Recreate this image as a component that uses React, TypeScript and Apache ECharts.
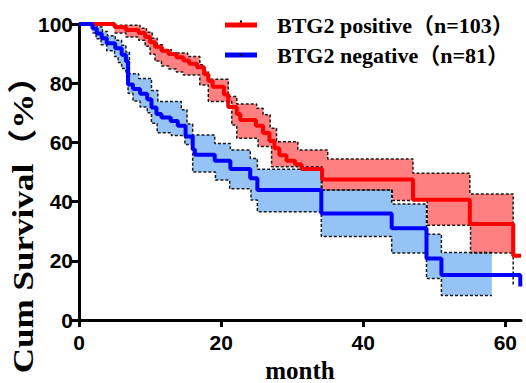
import React, { useEffect, useRef } from "react";
import * as echarts from "echarts";

// ---- data (month, survival %) ----
const xTickValues = [0, 20, 40, 60];
const yTickValues = [0, 20, 40, 60, 80, 100];

const seriesNames = ["BTG2 positive（n=103）", "BTG2 negative（n=81）"];

const redSurvival: [number, number][] = [
  [0, 100], [5.0, 99.0], [6.6, 98.0], [8.4, 97.0], [9.3, 95.6], [10.0, 93.8],
  [10.7, 92.3], [11.6, 91.0], [12.6, 89.9], [13.7, 88.8], [14.7, 87.7], [15.5, 86.6],
  [16.6, 85.4], [17.6, 83.0], [18.2, 80.8], [18.8, 78.8], [20.4, 76.2], [21.0, 72.0],
  [22.2, 69.6], [22.7, 67.6], [24.9, 65.6], [25.9, 63.2], [26.8, 60.5], [27.5, 58.0],
  [28.2, 55.7], [29.2, 53.8], [30.4, 52.6], [31.3, 51.0], [34.2, 47.5], [47.0, 40.6],
  [55.0, 32.4], [61.1, 21.7], [62.2, 21.7],
];

const redUpper: [number, number][] = [
  [5.0, 99.6], [8.6, 98.6], [9.5, 97.2], [10.3, 95.2], [11.0, 93.0], [11.8, 91.3],
  [13.0, 90.2], [15.3, 89.0], [17.0, 86.2], [17.6, 84.0], [18.2, 81.3], [21.0, 75.5],
  [22.2, 73.0], [25.0, 71.5], [25.9, 69.3], [26.9, 64.8], [27.8, 60.2], [30.8, 57.4],
  [35.0, 54.4], [47.0, 49.6], [55.0, 42.6], [61.1, 11.9],
];

const redLower: [number, number][] = [
  [5.0, 97.0], [6.6, 95.6], [8.4, 94.5], [9.3, 92.5], [10.0, 89.8], [10.7, 87.5],
  [11.6, 85.8], [12.6, 84.8], [13.7, 83.8], [14.7, 82.8], [17.0, 79.4], [18.2, 73.8],
  [21.5, 65.9], [22.2, 61.4], [25.2, 58.6], [27.1, 51.8], [34.2, 43.9], [44.1, 40.4],
  [49.0, 32.0], [55.1, 22.6], [61.1, 22.6],
];

const blueSurvival: [number, number][] = [
  [0, 100], [1.9, 98.5], [2.5, 96.8], [3.2, 95.2], [3.9, 93.5], [5.1, 91.8],
  [6.0, 89.6], [6.6, 87.4], [6.9, 79.6], [7.6, 78.0], [8.6, 76.4], [9.6, 74.6],
  [10.2, 71.8], [10.9, 69.6], [11.6, 68.4], [12.9, 67.2], [13.9, 65.6], [15.0, 62.0],
  [16.0, 57.6], [16.3, 55.8], [19.1, 53.8], [21.3, 51.0], [24.1, 47.9], [25.1, 43.9],
  [34.1, 36.0], [44.0, 31.0], [48.9, 20.8], [51.0, 15.2], [62.1, 11.3],
];

const blueUpper: [number, number][] = [
  [1.9, 100], [2.6, 99.0], [3.3, 97.5], [4.0, 96.0], [5.1, 94.5], [6.0, 92.8],
  [6.6, 90.5], [7.1, 83.2], [8.4, 81.6], [10.2, 77.5], [11.1, 73.8], [14.4, 71.0],
  [15.2, 66.2], [16.0, 62.5], [19.1, 59.6], [21.3, 57.4], [24.1, 54.6], [25.1, 50.9],
  [34.1, 43.9], [44.0, 39.2], [48.9, 29.0], [51.0, 22.8], [58.1, 22.8],
];

const blueLower: [number, number][] = [
  [1.9, 97.0], [2.4, 95.0], [3.1, 93.0], [3.9, 91.0], [5.0, 89.0], [5.5, 87.0],
  [6.0, 85.0], [6.6, 83.0], [6.9, 76.6], [7.6, 74.0], [8.6, 72.0], [9.6, 70.0],
  [10.2, 66.5], [11.0, 63.3], [13.0, 62.3], [14.9, 59.3], [16.0, 50.0], [19.2, 47.3],
  [21.2, 44.3], [24.2, 40.5], [25.1, 36.6], [34.1, 28.2], [44.0, 22.6], [48.9, 14.0],
  [51.0, 8.3], [58.1, 8.3],
];

const RED = "#ff0000";
const BLUE = "#0000ff";
const RED_FILL = "#ff8080";
const BLUE_FILL = "#95c3f5";
const SERIF = "'Liberation Serif', 'Times New Roman', 'Noto Sans CJK SC', serif";
const SANS = "'Liberation Sans', Arial, sans-serif";

function bandRenderer(upper: [number, number][], lower: [number, number][], fill: string) {
  return (_params: any, api: any) => {
    const pts: number[][] = [];
    for (let i = 0; i < upper.length - 1; i++) {
      pts.push(api.coord([upper[i][0], upper[i][1]]));
      pts.push(api.coord([upper[i + 1][0], upper[i][1]]));
    }
    for (let j = lower.length - 2; j >= 0; j--) {
      pts.push(api.coord([lower[j + 1][0], lower[j][1]]));
      pts.push(api.coord([lower[j][0], lower[j][1]]));
    }
    return { type: "polygon", shape: { points: pts }, style: { fill, stroke: "none" } };
  };
}

function ciLine(data: [number, number][]) {
  return {
    type: "line",
    data,
    step: "end",
    showSymbol: false,
    symbol: "none",
    silent: true,
    z: 3,
    lineStyle: { color: "#1a1a1a", width: 1.5, type: [3, 2] },
  };
}

export default function App() {
  const ref = useRef<HTMLDivElement>(null);
  useEffect(() => {
    const chart = echarts.init(ref.current!, null, { renderer: "svg" });
    const option: any = {
      animation: false,
      backgroundColor: "#ffffff",
      grid: { left: 79, right: 5, top: 24, bottom: 63, containLabel: false, outerBoundsMode: "none" },
      legend: {
        data: seriesNames,
        orient: "vertical",
        left: 220,
        top: 9,
        itemWidth: 32,
        itemHeight: 5,
        itemGap: 8,
        icon: "rect",
        textStyle: {
          fontFamily: SERIF,
          fontWeight: "bold",
          fontSize: 22,
          color: "#000",
          padding: [0, 0, 0, 15],
        },
      },
      xAxis: {
        type: "value",
        min: 0,
        max: 62.2,
        interval: 20,
        name: "month",
        nameLocation: "middle",
        nameGap: 36,
        nameTextStyle: { fontFamily: SERIF, fontWeight: "bold", fontSize: 25, color: "#000" },
        axisLine: { show: true, onZero: false, lineStyle: { color: "#000", width: 3 } },
        axisTick: { show: true, length: 7, lineStyle: { color: "#000", width: 3 }, customValues: xTickValues },
        axisLabel: {
          color: "#000", fontFamily: SANS, fontWeight: "bold", fontSize: 21, margin: 12,
          customValues: xTickValues,
        },
        splitLine: { show: false },
      },
      yAxis: {
        type: "value",
        min: 0,
        max: 100,
        interval: 20,
        axisLine: { show: true, lineStyle: { color: "#000", width: 3 } },
        axisTick: { show: true, length: 7, lineStyle: { color: "#000", width: 3 }, customValues: yTickValues },
        axisLabel: {
          color: "#000", fontFamily: SANS, fontWeight: "bold", fontSize: 21, margin: 6,
          customValues: yTickValues,
        },
        splitLine: { show: false },
      },
      graphic: [
        {
          type: "text",
          x: 23,
          y: 216,
          rotation: Math.PI / 2,
          scaleX: 1.21,
          style: {
            text: "Cum Survival（%）",
            fontFamily: SERIF,
            fontWeight: "bold",
            fontSize: 29,
            fill: "#000",
            align: "center",
            verticalAlign: "middle",
          },
        },
        { type: "circle", shape: { cx: 241, cy: 21.5, r: 1.2 }, style: { fill: "#000" }, z: 100 },
        { type: "circle", shape: { cx: 241, cy: 55, r: 1.2 }, style: { fill: "#000" }, z: 100 },
      ],
      series: [
        {
          type: "custom",
          coordinateSystem: "cartesian2d",
          data: [[0, 0]],
          silent: true,
          z: 1,
          renderItem: bandRenderer(blueUpper, blueLower, BLUE_FILL),
        },
        {
          type: "custom",
          coordinateSystem: "cartesian2d",
          data: [[0, 0]],
          silent: true,
          z: 1,
          renderItem: bandRenderer(redUpper, redLower, RED_FILL),
        },
        ciLine(blueUpper),
        ciLine(blueLower),
        ciLine(redUpper),
        ciLine(redLower),
        {
          name: seriesNames[0],
          type: "line",
          data: redSurvival,
          step: "end",
          showSymbol: false,
          symbol: "none",
          z: 4,
          color: RED,
          lineStyle: { color: RED, width: 4 },
        },
        {
          name: seriesNames[1],
          type: "line",
          data: blueSurvival,
          step: "end",
          showSymbol: false,
          symbol: "none",
          z: 5,
          color: BLUE,
          clip: false,
          lineStyle: { color: BLUE, width: 4 },
        },
      ],
    };
    chart.setOption(option);
    return () => chart.dispose();
  }, []);
  return (
    <div
      ref={ref}
      style={{ position: "fixed", left: 0, top: 0, width: 526, height: 383 }}
    />
  );
}
